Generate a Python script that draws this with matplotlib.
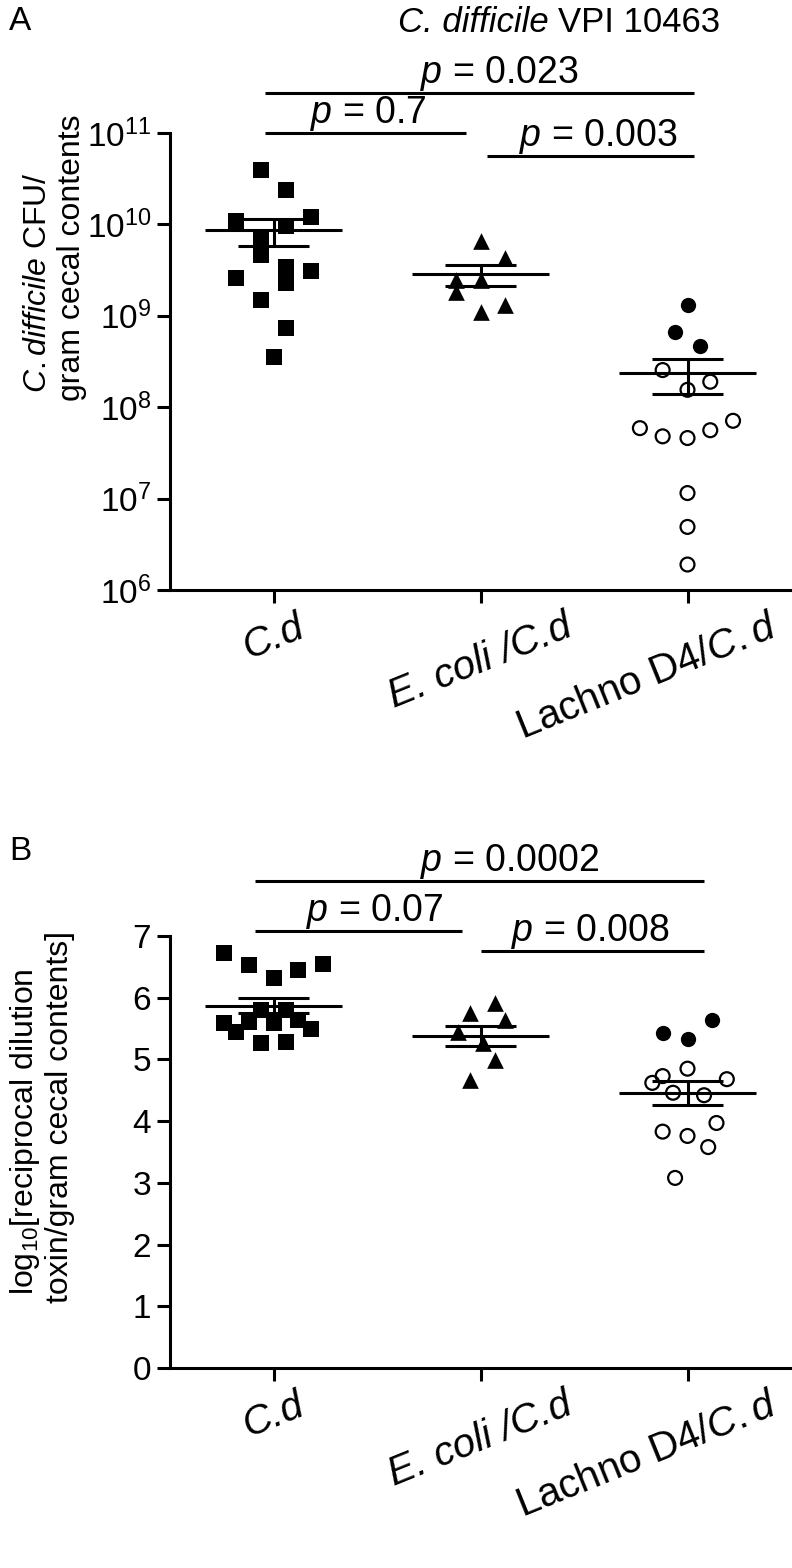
import numpy as np
import matplotlib.pyplot as plt
from matplotlib.transforms import ScaledTranslation

plt.rcParams['font.family'] = ['Liberation Sans', 'DejaVu Sans']
plt.rcParams['mathtext.fontset'] = 'custom'
plt.rcParams['mathtext.rm'] = 'Liberation Sans'
plt.rcParams['mathtext.it'] = 'Liberation Sans:italic'

# group names / tick labels
group_labels = ["C.d", "E. coli /C.d", r"Lachno D4/$C.d$"]

# panel A: C. difficile CFU per gram cecal contents
cfu_cd = [3.9e10, 2.4e10, 1.1e10, 1.2e10, 9.6e9, 7.1e9, 4.6e9, 3.4e9, 2.3e9,
          3.1e9, 2.6e9, 1.5e9, 7.4e8, 3.5e8]
cfu_cd_dx = [-0.06, 0.06, -0.18, 0.18, 0.06, -0.06, -0.06, 0.06, 0.06,
             0.18, -0.18, -0.06, 0.06, 0.0]
cfu_ecoli = [6.5e9, 4.3e9, 2.45e9, 2.45e9, 1.8e9, 1.1e9, 1.3e9]
cfu_ecoli_dx = [0.0, 0.12, -0.12, 0.0, -0.12, 0.0, 0.12]
cfu_lachno_filled = [1.3e9, 6.6e8, 4.7e8]
cfu_lachno_filled_dx = [0.0, -0.06, 0.06]
cfu_lachno_open = [2.55e8, 1.55e8, 1.9e8, 5.9e7, 4.8e7, 4.6e7, 5.6e7, 7.1e7,
                   1.15e7, 4.9e6, 1.9e6]
cfu_lachno_open_dx = [-0.12, 0.0, 0.11, -0.23, -0.12, 0.0, 0.11, 0.22, 0.0, 0.0, 0.0]

# panel B: log10 reciprocal toxin dilution
tox_cd = [6.73, 6.53, 6.32, 6.45, 6.55, 5.59, 5.45, 5.27, 5.28, 5.5, 5.8, 5.8,
          5.6, 5.59, 5.64]
tox_cd_dx = [-0.24, -0.12, 0.0, 0.12, 0.24, -0.24, -0.18, -0.06, 0.06, 0.18,
             -0.06, 0.06, -0.12, 0.0, 0.12]
tox_ecoli = [5.91, 5.75, 5.64, 5.45, 5.27, 4.99, 4.67]
tox_ecoli_dx = [0.07, -0.05, 0.12, -0.11, 0.01, 0.07, -0.05]
tox_lachno_filled = [5.43, 5.33, 5.64]
tox_lachno_filled_dx = [-0.12, 0.0, 0.12]
tox_lachno_open = [4.62, 4.73, 4.85, 4.68, 4.46, 4.42, 3.83, 3.76, 3.97, 3.58, 3.08]
tox_lachno_open_dx = [-0.17, -0.12, 0.0, 0.19, -0.07, 0.08, -0.12, 0.0, 0.14, 0.10, -0.06]

# p-value brackets: (x start, x end, y, label, text x)
brackets_a = [(0.957, 3.03, 10**11.44, "0.023", 2.09),
              (0.957, 1.93, 1e11, "0.7", 1.46),
              (2.03, 3.03, 10**10.75, "0.003", 2.57)]
brackets_b = [(0.91, 3.08, 7.89, "0.0002", 2.14),
              (0.91, 1.91, 7.08, "0.07", 1.49),
              (2.0, 3.08, 6.76, "0.008", 2.53)]

LW = 2.2
fig = plt.figure(figsize=(7.92, 15.68), dpi=100)
axA = fig.add_axes([170/792, 1-590/1568, 621/792, 457/1568])
axB = fig.add_axes([170/792, 1-1368/1568, 621/792, 432/1568])


def mean_sem(ax, x, vals):
    vals = np.asarray(vals)
    m = vals.mean()
    s = vals.std(ddof=1) / np.sqrt(len(vals))
    ax.hlines(m, x - 0.33, x + 0.33, color='k', lw=LW, zorder=3)
    ax.hlines([m - s, m + s], x - 0.17, x + 0.17, color='k', lw=LW, zorder=3)
    ax.vlines(x, m - s, m + s, color='k', lw=LW, zorder=3)


def panel(ax, cd, cd_dx, ec, ec_dx, lf, lf_dx, lo, lo_dx, brackets):
    ax.scatter(1 + np.array(cd_dx), cd, marker='s', s=11.5**2, color='k', lw=0, zorder=2)
    ax.scatter(2 + np.array(ec_dx), ec, marker='^', s=12**2, color='k', lw=0, zorder=2)
    ax.scatter(3 + np.array(lf_dx), lf, marker='o', s=11**2, color='k', lw=0, zorder=2)
    ax.scatter(3 + np.array(lo_dx), lo, marker='o', s=10**2, facecolor='none',
               edgecolor='k', lw=1.6, zorder=2)
    mean_sem(ax, 1, cd)
    mean_sem(ax, 2, ec)
    mean_sem(ax, 3, list(lf) + list(lo))
    for x0, x1, y, lab, tx in brackets:
        ax.plot([x0, x1], [y, y], color='k', lw=LW, clip_on=False, solid_capstyle='butt')
        ax.annotate(r"$p$ = " + lab, (tx, y), xytext=(0, 7), textcoords='offset points',
                    ha='center', va='baseline', fontsize=27, annotation_clip=False)
    ax.set_xlim(0.5, 3.5)
    for sp in ['top', 'right']:
        ax.spines[sp].set_visible(False)
    for sp in ['left', 'bottom']:
        ax.spines[sp].set_linewidth(LW)
    ax.tick_params(direction='out', length=9.5, width=LW, labelsize=24, pad=4)
    ax.tick_params(axis='x', pad=3)
    ax.set_xticks([1, 2, 3])
    labs = ax.set_xticklabels(group_labels, rotation=22, ha='center', va='top', fontsize=29)
    labs[0].set_fontstyle('italic')
    labs[1].set_fontstyle('italic')
    labs[2].set_transform(labs[2].get_transform() +
                          ScaledTranslation(-0.40, 0, fig.dpi_scale_trans))


panel(axA, cfu_cd, cfu_cd_dx, cfu_ecoli, cfu_ecoli_dx, cfu_lachno_filled,
      cfu_lachno_filled_dx, cfu_lachno_open, cfu_lachno_open_dx, brackets_a)
axA.set_yscale('log')
axA.set_ylim(1e6, 1e11)
axA.set_yticks([10.0**k for k in range(6, 12)])
axA.set_yticklabels([r"$10^{%d}$" % k for k in range(6, 12)])
axA.minorticks_off()

panel(axB, tox_cd, tox_cd_dx, tox_ecoli, tox_ecoli_dx, tox_lachno_filled,
      tox_lachno_filled_dx, tox_lachno_open, tox_lachno_open_dx, brackets_b)
axB.set_ylim(0, 7)
axB.set_yticks(range(0, 8))

# title: italic species name followed by upright strain name
t1 = fig.text(398/792, 1-32/1568, "C. difficile ", fontsize=25, fontstyle='italic',
              ha='left', va='baseline')
axA.annotate("VPI 10463", xy=(1, 0), xycoords=t1, ha='left', va='bottom',
             fontsize=25, annotation_clip=False)

fig.text(20/792, 1-21/1568, "A", fontsize=24, ha='center', va='center')
fig.text(20/792, 1-851/1568, "B", fontsize=24, ha='center', va='center')

fig.text(38/792, 1-283/1568, r"$C.difficile$ CFU/", rotation=90, fontsize=23,
         ha='center', va='center')
fig.text(72/792, 1-258/1568, "gram cecal contents", rotation=90, fontsize=23,
         ha='center', va='center')
fig.text(25/792, 1-1132/1568, r"log$_{10}$[reciprocal dilution", rotation=90,
         fontsize=23, ha='center', va='center')
fig.text(60/792, 1-1117/1568, "toxin/gram cecal contents]", rotation=90,
         fontsize=23, ha='center', va='center')

fig.savefig("out.png", dpi=100)
